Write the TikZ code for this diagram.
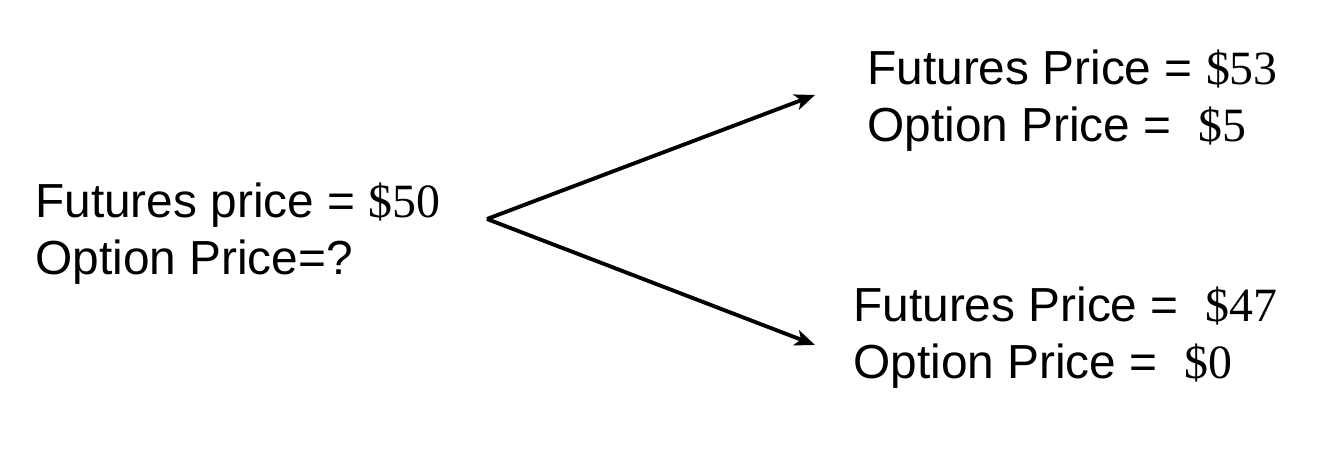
\documentclass[tikz,border=0pt]{standalone}
\usepackage{fontspec}
\setmainfont{Liberation Sans}
\newfontfamily\dollarfont{Liberation Serif}
\usetikzlibrary{arrows.meta}
\newcommand{\usd}[1]{{\dollarfont\$#1}}
\begin{document}
\begin{tikzpicture}
        \useasboundingbox (0,0) rectangle (26.58,8.98);

        % base of each text block = baseline of its last line
        \begin{scope}[every node/.style={anchor=base west,align=left,inner sep=0pt,
            font=\fontsize{27.2}{33}\selectfont}]
          \node (now)  at (0.70,3.48)  {Futures price = \usd{50}\\Option Price=?};
          \node (up)   at (17.34,6.14) {Futures Price = \usd{53}\\Option Price = ~\usd{5}};
          \node (down) at (17.06,1.40) {Futures Price = ~\usd{47}\\Option Price = ~\usd{0}};
        \end{scope}

        \coordinate (fork)    at (9.74,4.60);
        \coordinate (upend)   at (16.30,7.08);
        \coordinate (downend) at (16.30,2.08);

        \begin{scope}[line width=2.2pt,-{Stealth[length=0.4cm,width=0.32cm,inset=0.1cm]}]
          \draw (fork) -- (upend);
          \draw (fork) -- (downend);
        \end{scope}

      \end{tikzpicture}
\end{document}
